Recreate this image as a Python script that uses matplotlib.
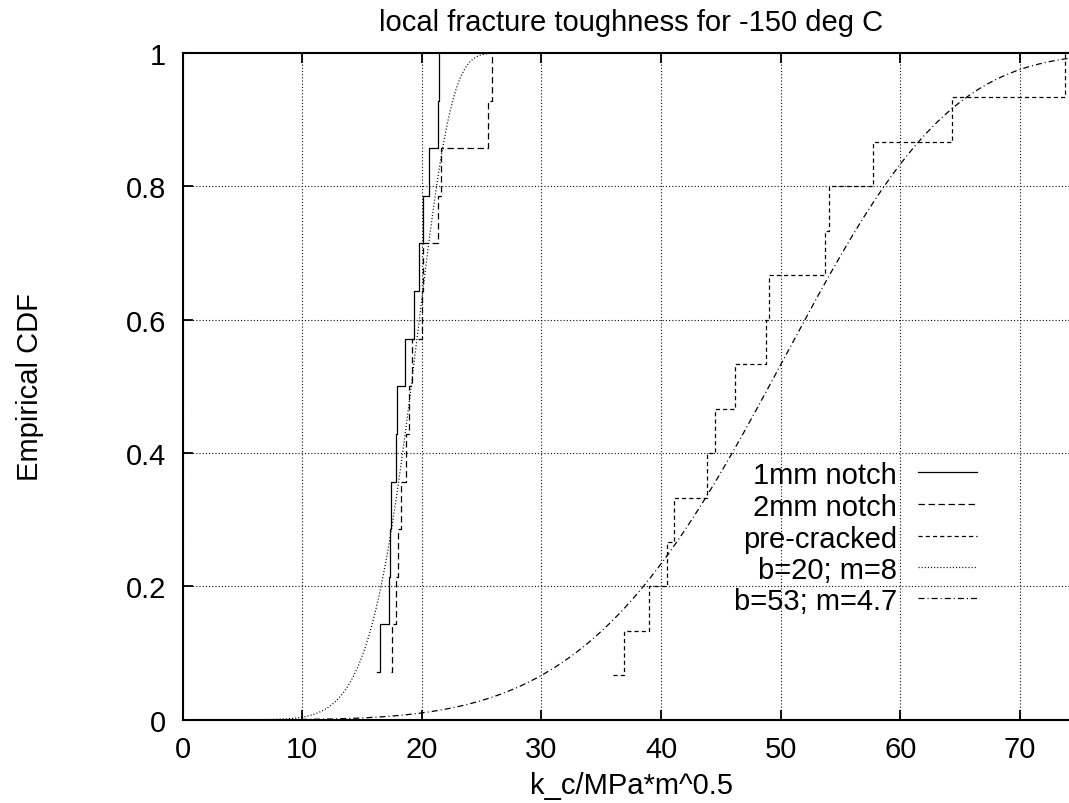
import numpy as np
import matplotlib
matplotlib.use("Agg")
import matplotlib.pyplot as plt

plt.rcParams['font.family'] = ['Liberation Sans', 'DejaVu Sans']
plt.rcParams['lines.scale_dashes'] = False

# ---- data -------------------------------------------------------------
title = "local fracture toughness for -150 deg C"
x_label = "k_c/MPa*m^0.5"
y_label = "Empirical CDF"

k_1mm = [16.22, 16.50, 17.28, 17.30, 17.39, 17.83, 17.90,
         18.59, 19.37, 19.79, 20.12, 20.62, 21.37, 21.46]
cdf_1mm = [0.0714, 0.1429, 0.2143, 0.2857, 0.3571, 0.4286, 0.5,
           0.5714, 0.6429, 0.7143, 0.7857, 0.8571, 0.9286, 1.0]

k_2mm = [17.45, 17.53, 17.81, 17.98, 18.25, 18.70, 18.90,
         19.20, 19.98, 20.12, 21.37, 21.60, 25.50, 25.90]
cdf_2mm = [0.0714, 0.1429, 0.2143, 0.2857, 0.3571, 0.4286, 0.5,
           0.5714, 0.6429, 0.7143, 0.7857, 0.8571, 0.9286, 1.0]

k_pre = [36.0, 36.9, 39.0, 40.5, 41.1, 43.8, 44.5, 46.2,
         48.8, 49.0, 53.7, 54.0, 57.7, 64.3, 73.8]
cdf_pre = [0.0667, 0.1333, 0.2, 0.2667, 0.3333, 0.4, 0.4667, 0.5333,
           0.6, 0.6667, 0.7333, 0.8, 0.8667, 0.9333, 1.0]

# Weibull fits: scale b, shape m
weibull_b = [20, 53]
weibull_m = [8, 4.7]

x_ticks = [0, 10, 20, 30, 40, 50, 60, 70]
x_tick_labels = ["0", "10", "20", "30", "40", "50", "60", "70"]
y_ticks = [0, 0.2, 0.4, 0.6, 0.8, 1.0]
y_tick_labels = ["0", "0.2", "0.4", "0.6", "0.8", "1"]

# ---- styles -----------------------------------------------------------
LW = 0.9
styles = {
    "1mm notch": dict(color="black", lw=LW, linestyle="-"),
    "2mm notch": dict(color="black", lw=LW, linestyle=(0, (4.6, 2.6))),
    "pre-cracked": dict(color="black", lw=LW, linestyle=(0, (3.0, 2.2))),
    "b=20; m=8": dict(color="black", lw=LW, linestyle=(0, (0.75, 1.5))),
    "b=53; m=4.7": dict(color="black", lw=LW,
                         linestyle=(0, (4.3, 2.2, 0.75, 2.2))),
}

FS = 21

fig = plt.figure(figsize=(10.69, 8.04), dpi=100)
ax = fig.add_axes([0.1709, 0.1036, 0.8391, 0.8292])

ax.plot(k_1mm, cdf_1mm, drawstyle="steps-post", **styles["1mm notch"])
ax.plot(k_2mm, cdf_2mm, drawstyle="steps-post", **styles["2mm notch"])
ax.plot(k_pre, cdf_pre, drawstyle="steps-post", **styles["pre-cracked"])

xs = np.linspace(0, 75, 1500)
for b, m, name in zip(weibull_b, weibull_m, ["b=20; m=8", "b=53; m=4.7"]):
    ax.plot(xs, 1.0 - np.exp(-(xs / b) ** m), **styles[name])

ax.set_xlim(0, 75)
ax.set_ylim(0, 1)
ax.set_xticks(x_ticks)
ax.set_xticklabels(x_tick_labels)
ax.set_yticks(y_ticks)
ax.set_yticklabels(y_tick_labels)

ax.grid(True, color="0.05", lw=0.8, linestyle=(0, (0.8, 1.5)))
ax.set_axisbelow(True)
ax.tick_params(direction="in", length=7, width=1.3, top=True, right=True,
               labelsize=FS, colors="black")
ax.tick_params(axis="x", pad=11)
ax.tick_params(axis="y", pad=12)
for sp in ax.spines.values():
    sp.set_linewidth(1.5)

ax.set_xlabel(x_label, fontsize=FS)
ax.xaxis.set_label_coords(0.5, -0.098)
ax.xaxis.label.set_va("center")
ax.set_ylabel(y_label, fontsize=FS)
ax.yaxis.set_label_coords(-0.17, 0.5)
ax.yaxis.label.set_va("center")
ax.set_title(title, fontsize=FS, y=1.034, va="center")

# legend: right-aligned labels with line samples to their right
names = ["1mm notch", "2mm notch", "pre-cracked", "b=20; m=8", "b=53; m=4.7"]
rows_y = [0.371, 0.3236, 0.2752, 0.2287, 0.1822]
for name, yy in zip(names, rows_y):
    ax.text(0.7963, yy, name, transform=ax.transAxes, ha="right",
            va="center_baseline", fontsize=FS)
    ax.plot([0.8199, 0.8853], [yy, yy], transform=ax.transAxes,
            clip_on=False, **styles[name])

fig.savefig("out.png", dpi=100)
